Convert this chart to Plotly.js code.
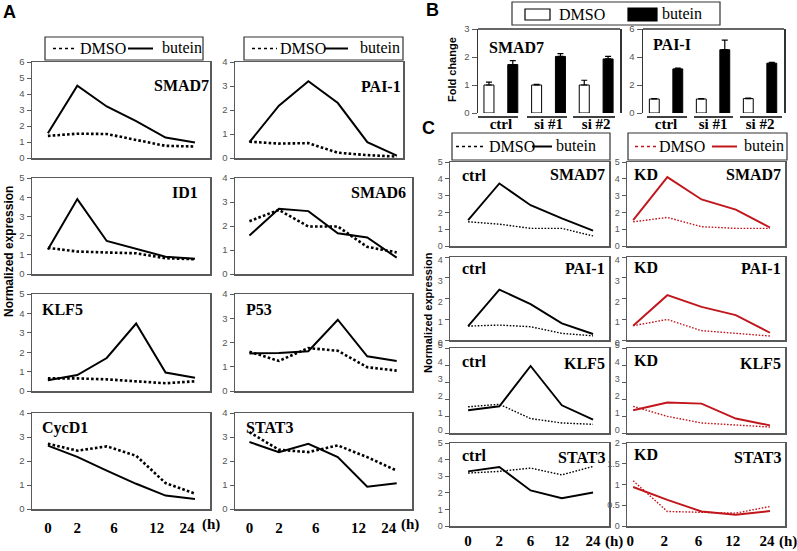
<!DOCTYPE html>
<html><head><meta charset="utf-8">
<script src="https://cdn.plot.ly/plotly-3.0.1.min.js"></script>
<style>html,body{margin:0;padding:0;background:#fff}#chart{width:797px;height:551px}</style>
</head><body><div id="chart"></div>
<script>
// ---------------- DATA ----------------
// Panel A: six sampled time points per gene (tick labels below)
const sampleA = [0, 1, 2, 3, 4, 5];
const timeLabels = ['0', '2', '6', '12', '24'];

const smad7A_dmso = [1.38, 1.52, 1.50, 1.13, 0.76, 0.72];
const smad7A_but  = [1.55, 4.52, 3.22, 2.30, 1.28, 0.97];
const pai1A_dmso  = [0.68, 0.60, 0.62, 0.22, 0.12, 0.06];
const pai1A_but   = [0.66, 2.18, 3.20, 2.29, 0.66, 0.10];
const id1A_dmso   = [1.36, 1.17, 1.12, 1.08, 0.82, 0.77];
const id1A_but    = [1.28, 3.90, 1.72, 1.32, 0.90, 0.80];
const smad6A_dmso = [2.20, 2.67, 1.98, 1.98, 1.13, 0.90];
const smad6A_but  = [1.60, 2.72, 2.62, 1.70, 1.52, 0.68];
const klf5A_dmso  = [0.65, 0.65, 0.60, 0.50, 0.40, 0.50];
const klf5A_but   = [0.55, 0.82, 1.70, 3.48, 0.95, 0.68];
const p53A_dmso   = [1.62, 1.24, 1.77, 1.66, 0.98, 0.84];
const p53A_but    = [1.55, 1.57, 1.64, 2.94, 1.43, 1.24];
const cycd1A_dmso = [2.72, 2.43, 2.61, 2.22, 1.08, 0.64];
const cycd1A_but  = [2.64, 2.17, 1.60, 1.05, 0.56, 0.42];
const stat3A_dmso = [3.20, 2.47, 2.37, 2.65, 2.16, 1.60];
const stat3A_but  = [2.79, 2.37, 2.72, 2.16, 0.93, 1.07];

// Panel B: fold change
const groupsB = ['ctrl', 'si #1', 'si #2'];
const smad7B_dmso = [1.00, 1.00, 1.00];
const smad7B_dmso_err = [0.10, 0.02, 0.17];
const smad7B_but = [1.73, 2.02, 1.93];
const smad7B_but_err = [0.14, 0.10, 0.09];
const paiB_dmso = [1.00, 1.00, 1.03];
const paiB_dmso_err = [0.02, 0.02, 0.03];
const paiB_but = [3.15, 4.52, 3.56];
const paiB_but_err = [0.06, 0.68, 0.05];

// Panel C: ctrl vs KD
const smad7C_ctrl_dmso = [1.44, 1.30, 1.05, 1.05, 0.60];
const smad7C_ctrl_but  = [1.54, 3.72, 2.43, 1.64, 0.91];
const smad7C_kd_dmso   = [1.44, 1.70, 1.15, 1.05, 1.05];
const smad7C_kd_but    = [1.54, 4.10, 2.77, 2.17, 1.10];
const pai1C_ctrl_dmso  = [0.67, 0.72, 0.64, 0.32, 0.20];
const pai1C_ctrl_but   = [0.67, 2.43, 1.73, 0.80, 0.29];
const pai1C_kd_dmso    = [0.69, 0.99, 0.45, 0.32, 0.19];
const pai1C_kd_but     = [0.69, 2.16, 1.60, 1.20, 0.35];
const klf5C_ctrl_dmso  = [1.54, 1.69, 0.85, 0.59, 0.51];
const klf5C_ctrl_but   = [1.34, 1.57, 3.94, 1.63, 0.79];
const klf5C_kd_dmso    = [1.57, 0.98, 0.59, 0.45, 0.35];
const klf5C_kd_but     = [1.34, 1.79, 1.73, 0.85, 0.45];
const stat3C_ctrl_dmso = [3.19, 3.29, 3.49, 3.08, 3.59];
const stat3C_ctrl_but  = [3.29, 3.55, 2.14, 1.67, 2.02];
const stat3C_kd_dmso   = [1.09, 0.35, 0.33, 0.31, 0.47];
const stat3C_kd_but    = [0.94, 0.63, 0.35, 0.27, 0.36];

// ---------------- HELPERS ----------------
const W = 797, H = 551;
const fx = x => x / W, fy = y => 1 - y / H;
const FRAME = '#5a5a5a';
const RED = '#c0161c';
const TICKFONT = {family: 'Liberation Sans', size: 9.5, color: '#555'};
const SERIF = 'Liberation Serif';
const SANS = 'Liberation Sans';
const boldTick = {family: SERIF, size: 15, color: '#000', weight: 'bold'};

const traces = [], annotations = [], shapes = [];
const layout = {
  width: W, height: H, margin: {l: 0, r: 0, t: 0, b: 0},
  paper_bgcolor: '#fff', plot_bgcolor: '#fff', showlegend: false,
  bargap: 0, bargroupgap: 0.58, barmode: 'group',
  annotations, shapes
};

let n = 0;
function panel(o) {
  n++;
  const s = n === 1 ? '' : String(n);
  const xr = 'x' + s, yr = 'y' + s;
  layout['xaxis' + s] = Object.assign({
    domain: [fx(o.x0), fx(o.x1)], anchor: yr, range: o.xrange,
    showgrid: false, zeroline: false, showline: true, mirror: true,
    linecolor: FRAME, linewidth: 1.5, ticks: '', showticklabels: false, fixedrange: true
  }, o.xa || {});
  layout['yaxis' + s] = Object.assign({
    domain: [fy(o.y1), fy(o.y0)], anchor: xr, range: o.yrange,
    tick0: 0, dtick: o.dtick, showgrid: false, zeroline: false,
    showline: true, mirror: true, linecolor: FRAME, linewidth: 1.5,
    ticks: 'outside', ticklen: 4, tickcolor: FRAME, tickwidth: 1,
    tickfont: TICKFONT, fixedrange: true
  }, o.ya || {});
  return {x: xr, y: yr};
}

function lines(ax, xs, dmso, but, color, thin) {
  traces.push({type: 'scatter', mode: 'lines', x: xs, y: dmso, xaxis: ax.x, yaxis: ax.y,
    line: {color: color, width: thin ? 1.4 : 2.6, dash: thin ? '1.6px,1.6px' : '2.6px,2.2px'},
    hoverinfo: 'skip'});
  traces.push({type: 'scatter', mode: 'lines', x: xs, y: but, xaxis: ax.x, yaxis: ax.y,
    line: {color: color, width: thin ? 1.9 : 2}, hoverinfo: 'skip'});
}

function label(text, x, y, anchor, size) {
  annotations.push({text: '<b>' + text + '</b>', x: fx(x), y: fy(y), xref: 'paper', yref: 'paper',
    xanchor: anchor, yanchor: 'middle', showarrow: false,
    font: {family: SERIF, size: size || 16, color: '#000'}});
}
function ptext(text, x, y, anchor, font) {
  annotations.push({text: text, x: fx(x), y: fy(y), xref: 'paper', yref: 'paper',
    xanchor: anchor, yanchor: 'middle', showarrow: false, font: font});
}
function hline(x0, x1, y, color, width, dash) {
  shapes.push({type: 'line', xref: 'paper', yref: 'paper', x0: fx(x0), x1: fx(x1), y0: fy(y), y1: fy(y),
    line: {color: color, width: width, dash: dash || 'solid'}});
}
function rect(x0, x1, y0, y1, line, fill) {
  shapes.push({type: 'rect', xref: 'paper', yref: 'paper', x0: fx(x0), x1: fx(x1), y0: fy(y1), y1: fy(y0),
    line: {color: line, width: 1.2}, fillcolor: fill});
}
function lineLegend(x0, x1, y0, y1, d0, d1, dmsoX, s0, s1, butX, color) {
  rect(x0, x1, y0, y1, '#333', 'rgba(0,0,0,0)');
  const ym = (y0 + y1) / 2;
  hline(d0, d1, ym, color, 1.3, 'dot');
  hline(s0, s1, ym, color, 2);
  const f = {family: SERIF, size: 16, color: '#000'};
  ptext('DMSO', dmsoX, ym, 'left', f);
  ptext('butein', butX, ym - 1, 'left', f);
}

// ---------------- PANEL A ----------------
const colA = [[32, 210], [235, 412]];
const rowsA = [[62, 158], [178, 274], [294, 391], [413, 509]];
const xrA1 = [-0.54, 5.51], xrA2 = [-0.49, 5.52];
const tickPosA = [0, 1, 2.25, 3.7, 4.73];
const xTickA = {showticklabels: true, tickmode: 'array', tickvals: tickPosA, ticktext: timeLabels,
  tickfont: boldTick, ticklabelstandoff: 4};

const specsA = [
  {c: 0, r: 0, yr: [0, 6], d: smad7A_dmso, b: smad7A_but},
  {c: 1, r: 0, yr: [0, 4], d: pai1A_dmso, b: pai1A_but, right: 403, xr: [-0.49, 5.21]},
  {c: 0, r: 1, yr: [0, 5], d: id1A_dmso, b: id1A_but},
  {c: 1, r: 1, yr: [0, 4], d: smad6A_dmso, b: smad6A_but},
  {c: 0, r: 2, yr: [0, 5], d: klf5A_dmso, b: klf5A_but},
  {c: 1, r: 2, yr: [0, 4], d: p53A_dmso, b: p53A_but},
  {c: 0, r: 3, yr: [0, 4], d: cycd1A_dmso, b: cycd1A_but},
  {c: 1, r: 3, yr: [0, 4], d: stat3A_dmso, b: stat3A_but}
];
specsA.forEach(sp => {
  const ax = panel({
    x0: colA[sp.c][0], x1: sp.right || colA[sp.c][1], y0: rowsA[sp.r][0], y1: rowsA[sp.r][1],
    xrange: sp.xr || (sp.c === 0 ? xrA1 : xrA2), yrange: sp.yr, dtick: 1,
    xa: sp.r === 3 ? xTickA : {}
  });
  lines(ax, sampleA, sp.d, sp.b, '#000', false);
});
label('SMAD7', 211, 85, 'right');
label('PAI-1', 403, 86, 'right');
label('ID1', 200, 193, 'right');
label('SMAD6', 408, 193, 'right');
label('KLF5', 40, 309, 'left');
label('P53', 244, 309, 'left');
label('CycD1', 40, 428, 'left');
label('STAT3', 244, 427, 'left');
ptext('<b>(h)</b>', 211, 524, 'center', boldTick);
ptext('<b>(h)</b>', 410, 524, 'center', boldTick);
lineLegend(45, 203, 37, 60, 53, 77, 78, 128, 153, 160, '#000');
lineLegend(244, 403, 37, 60, 252, 277, 278, 325, 348, 358, '#000');
ptext('<b>A</b>', 9, 12, 'center', {family: SANS, size: 18, color: '#000'});
annotations.push({text: '<b>Normalized expression</b>', x: fx(9), y: fy(252), xref: 'paper', yref: 'paper',
  textangle: -90, showarrow: false, xanchor: 'center', yanchor: 'middle',
  font: {family: SANS, size: 12, color: '#000'}});

// ---------------- PANEL B ----------------
const xTickB = {showline: false, showticklabels: true, tickfont: boldTick,
  type: 'category', ticklabelstandoff: 0};
const axB1 = panel({x0: 478, x1: 620, y0: 29, y1: 113, xrange: [-0.48, 2.5], yrange: [0, 3], dtick: 1,
  xa: xTickB, ya: {linecolor: '#333', ticklen: 5}});
const axB2 = panel({x0: 643, x1: 784, y0: 29, y1: 113, xrange: [-0.49, 2.51], yrange: [0, 6], dtick: 2,
  xa: xTickB, ya: {linecolor: '#333', ticklen: 5}});
function bars(ax, d, de, b, be) {
  const zeros = de.map(() => 0);
  traces.push({type: 'bar', x: groupsB, y: d, xaxis: ax.x, yaxis: ax.y, marker: {color: '#fff', line: {color: '#000', width: 1}},
    error_y: {type: 'data', symmetric: false, array: de, arrayminus: zeros, color: '#000', thickness: 1.2, width: 3}, hoverinfo: 'skip'});
  traces.push({type: 'bar', x: groupsB, y: b, xaxis: ax.x, yaxis: ax.y, marker: {color: '#000', line: {color: '#000', width: 1}},
    error_y: {type: 'data', symmetric: false, array: be, arrayminus: zeros, color: '#000', thickness: 1.2, width: 3}, hoverinfo: 'skip'});
}
bars(axB1, smad7B_dmso, smad7B_dmso_err, smad7B_but, smad7B_but_err);
bars(axB2, paiB_dmso, paiB_dmso_err, paiB_but, paiB_but_err);
hline(478, 620, 29, '#333', 1.5);
hline(643, 784, 29, '#333', 1.5);
[[478, 518], [527, 567], [573, 615], [647, 687], [694, 733], [740, 782]].forEach(s => hline(s[0], s[1], 117, '#000', 1.3));
label('SMAD7', 487, 47, 'left');
label('PAI-I', 651, 45, 'left');
rect(512, 720, 2, 25, '#333', 'rgba(0,0,0,0)');
rect(525, 550, 9, 20, '#000', '#fff');
rect(628, 657, 8, 21, '#000', '#000');
ptext('DMSO', 582, 14, 'center', {family: SERIF, size: 16, color: '#000'});
ptext('butein', 660, 13, 'left', {family: SERIF, size: 16, color: '#000'});
ptext('<b>B</b>', 432, 10, 'center', {family: SANS, size: 18, color: '#000'});
annotations.push({text: '<b>Fold change</b>', x: fx(452), y: fy(70), xref: 'paper', yref: 'paper',
  textangle: -90, showarrow: false, xanchor: 'center', yanchor: 'middle',
  font: {family: SANS, size: 11, color: '#000'}});

// ---------------- PANEL C ----------------
const colC = [[450, 609], [627, 785]];
const xrC = [[-0.58, 4.51], [-0.18, 4.44]];
const rowsC = [[162, 246], [257, 340], [348, 433], [443, 526]];
const yShiftC = [0, 3, -3, 0];
const specsC = [
  {c: 0, r: 0, yr: [0, 5], dt: 1, d: smad7C_ctrl_dmso, b: smad7C_ctrl_but},
  {c: 1, r: 0, yr: [0, 5], dt: 1, d: smad7C_kd_dmso, b: smad7C_kd_but},
  {c: 0, r: 1, yr: [0, 4], dt: 1, d: pai1C_ctrl_dmso, b: pai1C_ctrl_but},
  {c: 1, r: 1, yr: [0, 4], dt: 1, d: pai1C_kd_dmso, b: pai1C_kd_but},
  {c: 0, r: 2, yr: [0, 5], dt: 1, d: klf5C_ctrl_dmso, b: klf5C_ctrl_but},
  {c: 1, r: 2, yr: [0, 5], dt: 1, d: klf5C_kd_dmso, b: klf5C_kd_but},
  {c: 0, r: 3, yr: [0, 5], dt: 1, d: stat3C_ctrl_dmso, b: stat3C_ctrl_but},
  {c: 1, r: 3, yr: [0, 2], dt: 0.5, d: stat3C_kd_dmso, b: stat3C_kd_but}
];
specsC.forEach(sp => {
  const xTickC = {showticklabels: true, tickfont: boldTick, ticklabelstandoff: 0,
    ticklabelshift: sp.c === 1 ? -3 : 0};
  const ax = panel({
    x0: colC[sp.c][0], x1: colC[sp.c][1], y0: rowsC[sp.r][0], y1: rowsC[sp.r][1],
    xrange: xrC[sp.c], yrange: sp.yr, dtick: sp.dt,
    xa: Object.assign({type: 'category'}, sp.r === 3 ? xTickC : {}),
    ya: {tickfont: Object.assign({}, TICKFONT, {size: 9}), ticklabelshift: yShiftC[sp.r]}
  });
  lines(ax, timeLabels, sp.d, sp.b, sp.c === 0 ? '#000' : RED, true);
});
const geneC = [['SMAD7', 174, 175], ['PAI-1', 268, 268], ['KLF5', 363, 361], ['STAT3', 457, 455]];
geneC.forEach(g => {
  label('ctrl', 460, g[2], 'left');
  label(g[0], 607, g[1], 'right');
  label('KD', 632, g[2] - 1, 'left');
  label(g[0], 783, g[1], 'right');
});
ptext('<b>(h)</b>', 614, 541, 'center', boldTick);
ptext('<b>(h)</b>', 788, 541, 'center', boldTick);
lineLegend(452, 610, 133, 160, 456, 485, 487, 532, 552, 554, '#000');
lineLegend(628, 787, 133, 160, 635, 657, 657, 712, 737, 742, RED);
ptext('<b>C</b>', 428, 128, 'center', {family: SANS, size: 18, color: '#000'});
annotations.push({text: '<b>Normalized expression</b>', x: fx(428), y: fy(313), xref: 'paper', yref: 'paper',
  textangle: -90, showarrow: false, xanchor: 'center', yanchor: 'middle',
  font: {family: SANS, size: 11, color: '#000'}});

Plotly.newPlot('chart', traces, layout, {displayModeBar: false, staticPlot: true});
</script></body></html>
